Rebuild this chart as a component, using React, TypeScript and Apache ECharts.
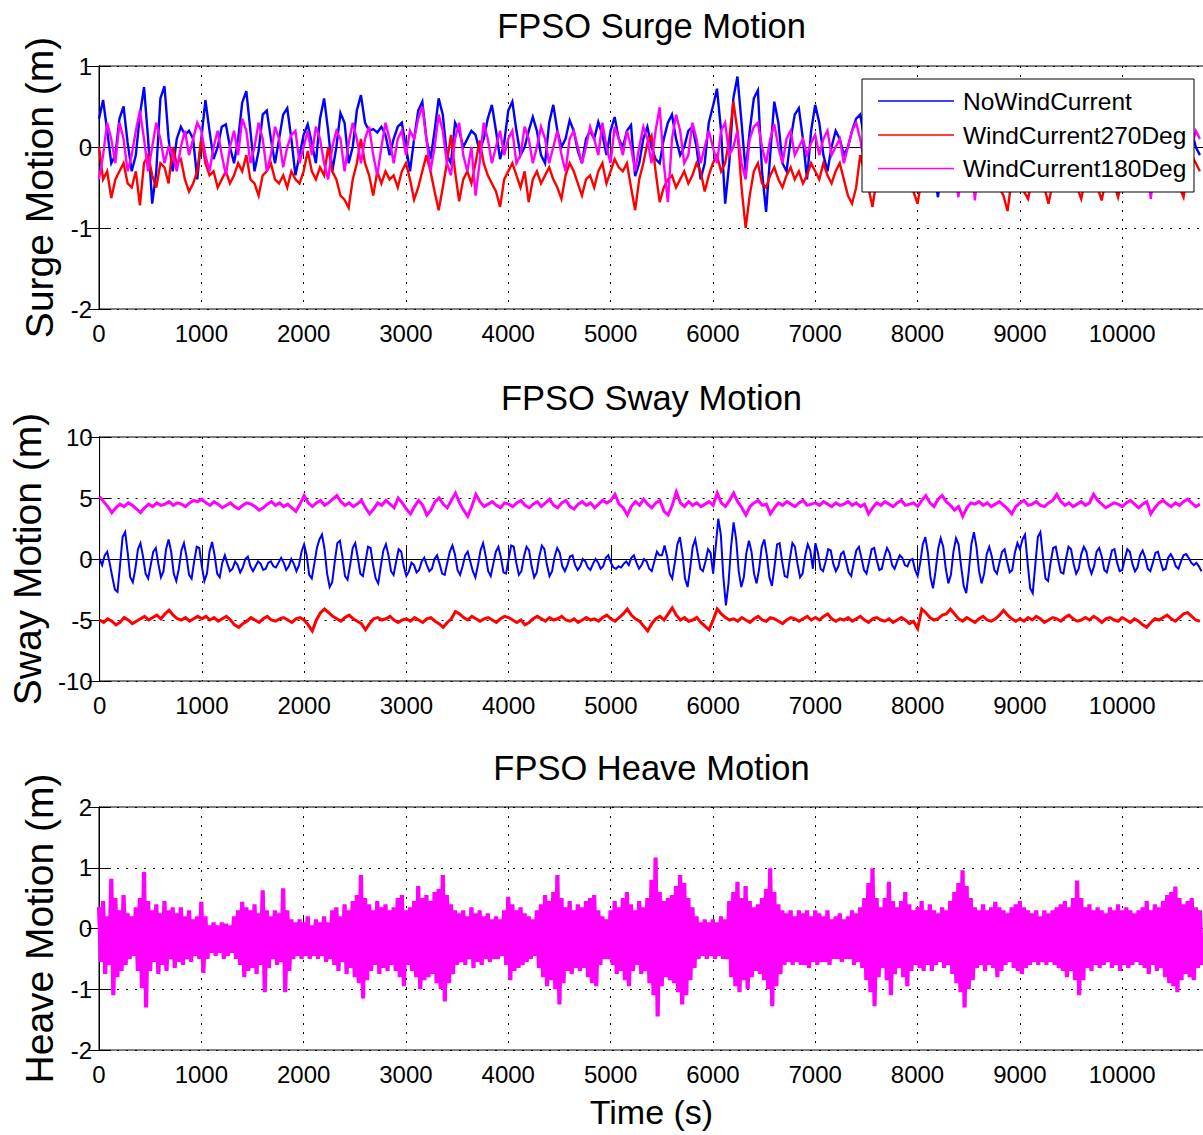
import React, { useEffect, useRef } from "react";
import * as echarts from "echarts";

// ---- axes and labels ----
const TIME_MAX = 10800;
const TIME_TICK = 1000;
const PANEL_TITLES = ["FPSO Surge Motion", "FPSO Sway Motion", "FPSO Heave Motion"];
const PANEL_Y_NAMES = ["Surge Motion (m)", "Sway Motion (m)", "Heave Motion (m)"];
const Y_MIN = [-2, -10, -2];
const Y_MAX = [1, 10, 2];
const Y_STEP = [1, 5, 1];
const X_NAME = "Time (s)";
const SERIES_NAMES = ["NoWindCurrent", "WindCurrent270Deg", "WindCurrent180Deg"];
const SERIES_COLORS = ["#0000ff", "#ff0000", "#ff00ff"];

// ---- surge (m), one sample every 40 s ----
const SURGE_DT = 40;
const SURGE_NOWIND = [
  0.35, 0.58, 0.2, -0.2, -0.1, 0.35, 0.5, 0.05, -0.3, -0.1, 0.4, 0.74, 0.1, -0.7, -0.3, 0.6, 0.75, 0.1, -0.3, 0.1, 0.25, 0.15, 0.2, 0.1, -0.4,
  0.1, 0.58, 0.2, -0.15, 0.0, 0.25, 0.28, 0.0, -0.2, 0.1, 0.55, 0.69, 0.2, -0.3, -0.05, 0.4, 0.45, 0.1, -0.2, 0.1, 0.4, 0.48, 0.1, -0.35, -0.1,
  0.15, 0.28, 0.05, -0.2, 0.35, 0.6, 0.2, -0.3, 0.0, 0.42, 0.3, -0.2, 0.0, 0.45, 0.64, 0.3, 0.2, 0.22, 0.18, 0.25, 0.15, -0.1, 0.1, 0.25, 0.3,
  0.0, -0.3, 0.1, 0.45, 0.56, 0.1, -0.15, 0.2, 0.6, 0.4, -0.1, -0.2, 0.3, 0.2, 0.0, 0.1, 0.2, 0.15, -0.05, 0.1, 0.35, 0.52, 0.2, -0.15, 0.05,
  0.45, 0.56, 0.2, -0.1, 0.0, 0.2, 0.37, 0.2, -0.1, -0.2, 0.3, 0.52, 0.2, 0.0, 0.1, 0.33, 0.2, -0.05, -0.2, 0.1, 0.2, 0.1, 0.31, 0.15, -0.1,
  0.2, 0.37, 0.1, 0.0, 0.2, 0.27, -0.36, -0.2, 0.1, 0.25, 0.0, -0.15, -0.2, 0.1, 0.3, 0.4, 0.1, -0.1, 0.0, 0.2, 0.25, 0.0, -0.4, -0.2, 0.3,
  0.5, 0.72, 0.2, -0.7, -0.2, 0.6, 0.87, 0.3, -0.3, 0.2, 0.6, 0.7, -0.3, -0.8, -0.1, 0.56, 0.3, -0.2, -0.3, 0.1, 0.4, 0.48, 0.1, -0.4, 0.2,
  0.52, 0.3, -0.1, -0.3, 0.0, 0.2, 0.1, -0.1, 0.0, 0.2, 0.35, 0.4, 0.1, -0.2, 0.1, 0.45, 0.3, -0.2, -0.1, 0.3, 0.5, 0.2, -0.3, 0.0, 0.4,
  0.3, -0.1, -0.3, 0.0, -0.3, -0.62, -0.2, 0.3, 0.55, 0.2, -0.3, 0.0, 0.4, 0.3, -0.2, -0.1, 0.35, 0.5, 0.1, -0.3, 0.0, 0.3, 0.2, -0.2, 0.1,
  0.45, 0.3, -0.2, -0.3, 0.2, 0.5, 0.3, -0.1, -0.3, 0.0, 0.4, 0.2, -0.2, 0.1, 0.5, 0.4, -0.1, -0.3, 0.1, 0.45, 0.2, -0.2, 0.0, 0.3, 0.4,
  0.1, -0.3, 0.0, 0.4, 0.3, -0.1, -0.2, 0.2, 0.5, 0.2, -0.2, 0.0, 0.35, 0.3, -0.1, -0.3, 0.1, 0.2, 0.0, -0.1,
];
const SURGE_270 = [
  0.0, -0.4, -0.3, -0.63, -0.4, -0.3, -0.2, -0.45, -0.5, -0.3, -0.72, -0.2, -0.1, -0.35, -0.5, -0.2, -0.25, -0.45, 0.0, -0.2, -0.15, -0.4, -0.55, -0.45, -0.3,
  0.1, -0.2, -0.35, -0.3, -0.5, -0.4, -0.3, -0.45, -0.35, -0.2, -0.3, -0.1, -0.4, -0.45, -0.6, -0.35, -0.3, -0.2, -0.4, -0.45, -0.35, -0.5, -0.3, -0.4, -0.45,
  -0.3, -0.05, -0.3, -0.4, -0.25, -0.35, 0.0, -0.3, -0.4, -0.6, -0.65, -0.75, -0.4, -0.2, 0.1, -0.2, -0.35, -0.6, -0.3, -0.45, -0.3, -0.4, -0.35, -0.5, -0.3,
  -0.2, -0.4, -0.65, -0.5, -0.3, -0.1, -0.3, -0.55, -0.78, -0.5, -0.2, 0.15, -0.3, -0.67, -0.4, -0.3, -0.45, -0.2, 0.08, -0.2, -0.35, -0.45, -0.55, -0.74, -0.4,
  -0.3, -0.2, -0.35, -0.5, -0.3, -0.68, -0.4, -0.3, -0.45, -0.35, -0.25, -0.4, -0.5, -0.64, -0.35, -0.2, -0.3, -0.45, -0.6, -0.4, -0.35, -0.5, -0.3, -0.2, -0.45,
  -0.3, -0.15, -0.25, -0.3, -0.2, -0.5, -0.78, -0.4, -0.2, 0.05, 0.14, -0.3, -0.68, -0.5, -0.4, -0.35, -0.5, -0.4, -0.3, -0.45, -0.35, -0.2, -0.3, -0.55, -0.35,
  -0.2, -0.1, -0.3, -0.2, 0.1, 0.56, 0.2, -0.5, -1.0, -0.6, -0.3, -0.2, -0.45, -0.5, -0.35, -0.25, -0.4, -0.5, -0.35, -0.25, -0.4, -0.3, -0.45, -0.35, -0.2,
  -0.3, -0.4, -0.2, -0.35, -0.45, -0.3, -0.2, -0.4, -0.6, -0.7, -0.5, -0.1, -0.3, -0.5, -0.74, -0.4, -0.3, -0.45, -0.35, -0.2, -0.4, -0.5, -0.3, -0.45, -0.55,
  -0.7, -0.4, -0.3, -0.45, -0.35, -0.2, -0.4, -0.5, -0.3, -0.35, -0.45, -0.3, -0.2, -0.4, -0.5, -0.35, -0.3, -0.45, -0.4, -0.3, -0.5, -0.6, -0.79, -0.4, -0.3,
  -0.45, -0.55, -0.64, -0.4, -0.3, -0.35, -0.5, -0.7, -0.45, -0.3, -0.2, -0.4, -0.35, -0.45, -0.5, -0.64, -0.4, -0.3, -0.35, -0.5, -0.66, -0.4, -0.3, -0.45, -0.62,
  -0.4, -0.3, -0.45, -0.35, -0.2, -0.4, -0.5, -0.35, -0.3, -0.45, -0.4, -0.3, -0.5, -0.4, -0.5, -0.62, -0.3, -0.1, -0.2, -0.3,
];
const SURGE_180 = [
  -0.4, -0.1, 0.3, 0.1, -0.2, 0.3, 0.1, -0.3, -0.1, 0.2, 0.45, 0.1, -0.3, 0.0, 0.3, 0.1, -0.2, 0.0, -0.1, -0.3, 0.0, 0.2, -0.1, 0.1, 0.3,
  0.2, -0.1, -0.3, 0.0, 0.2, -0.1, -0.35, 0.0, 0.2, -0.1, 0.35, 0.2, -0.2, 0.0, 0.3, 0.1, -0.3, -0.1, 0.25, 0.1, -0.25, 0.0, 0.15, 0.2, -0.2,
  0.0, 0.2, -0.1, 0.25, 0.1, -0.2, -0.4, 0.0, 0.2, 0.1, -0.3, 0.05, 0.3, 0.1, -0.2, 0.1, 0.25, -0.1, -0.35, 0.0, 0.3, 0.1, -0.2, 0.1, 0.2,
  -0.1, 0.2, 0.1, 0.35, 0.5, 0.1, -0.3, 0.0, 0.4, 0.2, -0.2, -0.35, 0.1, 0.3, -0.1, -0.3, 0.0, -0.6, -0.2, 0.3, 0.1, -0.2, 0.0, 0.2, -0.1,
  0.1, 0.2, -0.2, -0.1, 0.25, 0.1, -0.2, 0.0, 0.25, 0.1, -0.2, 0.0, 0.2, -0.1, -0.3, 0.1, 0.2, 0.0, -0.2, 0.0, 0.25, 0.1, -0.1, 0.3, 0.0,
  -0.2, 0.25, 0.1, -0.1, 0.2, 0.0, -0.3, 0.0, 0.25, 0.1, -0.2, 0.2, 0.49, -0.2, -0.68, 0.1, 0.4, 0.2, -0.2, -0.1, 0.3, 0.1, -0.2, 0.0, 0.2,
  0.0, -0.2, 0.2, 0.3, -0.1, 0.0, 0.2, -0.2, -0.4, 0.1, 0.25, 0.3, 0.0, -0.2, 0.1, 0.28, 0.0, -0.2, 0.1, 0.2, -0.1, 0.0, 0.1, -0.1, 0.05,
  0.15, -0.1, 0.1, 0.2, -0.1, 0.0, 0.1, -0.2, 0.0, 0.2, 0.3, 0.1, -0.2, 0.1, 0.3, 0.0, -0.3, 0.0, 0.25, 0.1, -0.2, 0.0, 0.2, 0.1, -0.3,
  0.0, 0.2, 0.1, -0.2, 0.0, 0.3, 0.1, -0.2, 0.0, -0.3, -0.62, -0.1, 0.2, 0.0, -0.66, -0.2, 0.1, 0.25, 0.0, -0.2, 0.1, 0.2, -0.1, 0.0, 0.2,
  0.0, -0.2, 0.1, 0.25, 0.0, -0.3, 0.0, 0.2, 0.1, -0.2, 0.1, 0.3, 0.0, -0.3, 0.0, 0.2, 0.1, -0.2, 0.1, 0.25, 0.0, -0.3, 0.1, 0.2, -0.1,
  0.1, 0.2, -0.1, -0.3, 0.0, 0.2, -0.2, -0.64, -0.2, 0.1, 0.2, 0.0, -0.3, 0.0, 0.25, 0.1, -0.2, 0.0, 0.2, 0.1,
];

// ---- sway (m) ----
const SWAY_NOWIND_DT = 25;
const SWAY_NOWIND = [
  0.0, -0.5, 0.3, 0.6, -0.4, -1.5, -2.5, -2.7, -0.5, 1.8, 2.2, 0.5, -1.5, -1.9, -0.8, 0.8, 1.3, 0.2, -1.2, -1.6, -0.5, 0.6, 0.9, -0.4, -1.5, -1.0, 0.8, 1.6, 0.6, -1.2, -1.8, -0.8, 0.7, 1.3, 0.2, -1.3, -1.6, -0.2, 1.0, 0.9,
  -0.6, -1.8, -1.2, 0.6, 1.4, 0.3, -1.2, -1.5, -0.3, 0.3, -0.4, -1.0, -0.8, -0.2, -0.5, -1.1, -0.7, 0.0, 0.2, -0.6, -1.0, -0.6, -0.2, -0.4, -0.9, -0.8, -0.3, -0.2, -0.6, -0.7, -0.3, 0.1, -0.3, -0.9, -0.6, 0.0, -0.4, -1.0, -0.5, 0.6,
  1.2, 0.3, -1.3, -1.6, -0.4, 0.9, 1.6, 2.0, 0.8, -1.2, -2.3, -1.9, -0.2, 1.3, 1.5, 0.2, -1.4, -1.7, -0.5, 0.9, 1.3, 0.1, -1.2, -1.4, -0.2, 1.0, 0.9, -0.5, -1.6, -2.0, -0.6, 0.7, 1.2, 0.3, -1.0, -1.3, -0.2, 0.8, 0.6, -0.6,
  -1.4, -1.0, -0.3, -0.5, -1.1, -0.9, -0.2, 0.1, -0.5, -1.0, -0.8, 0.0, 0.3, -0.4, -1.2, -1.3, -0.3, 0.6, 1.1, 0.4, -0.9, -1.3, -0.6, 0.3, 0.6, -0.2, -1.0, -1.5, -0.5, 0.7, 1.3, 0.3, -1.0, -1.4, -0.4, 0.6, 1.0, 0.1, -1.1, -1.2,
  0.0, 1.1, 1.0, -0.3, -1.3, -1.0, 0.2, 1.0, 0.7, -0.6, -1.5, -1.1, 0.2, 1.1, 0.8, -0.5, -1.4, -1.0, 0.2, 0.9, 0.5, -0.6, -1.0, -0.5, 0.2, 0.3, -0.5, -0.9, -0.6, 0.0, -0.2, -0.7, -0.9, -0.4, 0.0, -0.3, -0.8, -0.6, 0.1, 0.3,
  -0.3, -0.7, -0.8, -0.6, -0.7, -0.4, -0.2, -0.5, 0.1, 0.3, -0.3, -0.8, -0.5, 0.0, -0.2, -0.8, -1.0, -0.2, 0.6, 0.3, 0.3, 1.1, 0.2, -1.2, -1.6, -0.3, 1.2, 1.8, 0.4, -1.6, -2.3, -0.8, 1.0, 1.6, 0.4, -0.8, -1.0, -0.2, 0.8, 0.5,
  -1.2, 1.0, 3.3, 2.0, -1.5, -3.8, -2.0, 1.0, 3.0, 1.6, -1.0, -2.3, -1.5, 0.5, 1.5, 0.6, -1.2, -2.0, -0.8, 1.0, 1.6, 0.3, -1.5, -2.2, -0.6, 1.2, 1.3, -0.2, -1.4, -1.5, 0.0, 1.3, 1.0, -0.4, -1.5, -1.2, 0.3, 1.2, 0.7, -0.8,
  1.3, 0.5, -0.8, -1.0, -0.2, 0.8, 0.7, -0.4, -1.0, -0.6, 0.4, 0.6, -0.2, -1.1, -1.4, -0.3, 0.7, 1.0, 0.1, -0.9, -1.2, -0.2, 0.8, 0.9, -0.1, -0.9, -0.8, 0.2, 0.9, 0.5, -0.5, -0.8, -0.2, 0.3, 0.1, -0.5, -0.6, -0.1, 0.0, -0.9,
  -1.4, -0.3, 1.2, 1.8, 0.5, -1.5, -2.4, -1.0, 0.8, 1.7, 1.0, -0.8, -2.0, -1.3, 0.6, 1.7, 1.2, -0.6, -2.2, -2.8, -1.0, 1.2, 2.2, 1.0, -1.0, -2.0, -1.2, 0.4, 1.0, 0.2, -0.9, -1.2, -0.3, 0.6, 0.8, -0.2, -1.1, -0.9, 0.5, 1.3,
  0.8, 1.6, 2.0, -0.3, -2.4, -2.8, -0.5, 1.8, 2.2, 0.2, -1.6, -1.8, -0.3, 0.9, 1.0, -0.1, -1.1, -1.2, 0.0, 1.0, 0.8, -0.4, -1.2, -0.8, 0.4, 1.0, 0.6, -0.6, -1.2, -0.6, 0.6, 0.9, 0.2, -0.9, -1.1, -0.2, 0.7, 0.8, -0.3, -1.0,
  -0.9, 0.0, 0.8, 0.6, -0.4, -1.0, -0.7, 0.3, 0.7, 0.1, -0.8, -1.0, -0.3, 0.5, 0.6, -0.2, -0.9, -0.8, 0.1, 0.4, 0.0, -0.6, -0.8, -0.2, 0.3, 0.4, 0.1, -0.3, -0.5, -0.3, -0.6, -1.0,
];
const SWAY_OFFSET_DT = 40;
const SWAY_270 = [
  -5.0, -5.2, -4.9, -5.1, -5.4, -5.2, -4.8, -5.0, -5.3, -5.1, -4.9, -4.7, -5.0, -4.8, -4.6, -4.9, -4.5, -4.2, -4.6, -4.9, -5.0, -4.8, -5.1, -4.9, -4.7,
  -4.9, -4.7, -5.0, -4.8, -5.1, -4.9, -4.7, -5.0, -5.4, -5.6, -5.3, -5.1, -4.8, -5.0, -5.2, -4.9, -4.7, -5.0, -5.1, -4.9, -4.8, -5.0, -5.2, -4.9, -4.8,
  -5.0, -5.4, -5.9, -5.0, -4.4, -4.1, -4.4, -4.7, -4.9, -5.1, -4.8, -4.6, -4.9, -5.1, -5.3, -5.8, -5.3, -4.9, -4.8, -5.0, -4.9, -4.7, -5.0, -5.2, -5.0,
  -4.9, -5.1, -4.8, -5.0, -5.2, -4.9, -4.8, -5.1, -5.3, -5.6, -5.2, -4.9, -4.3, -4.5, -4.8, -5.0, -4.7, -4.9, -5.1, -4.9, -4.8, -5.0, -5.2, -4.9, -4.7,
  -4.8, -5.0, -5.2, -5.0, -5.4, -5.2, -4.9, -4.7, -4.9, -5.1, -4.8, -5.0, -4.9, -4.7, -5.0, -5.1, -4.9, -5.2, -5.0, -4.8, -5.0, -4.9, -5.1, -4.8, -4.6,
  -4.9, -5.1, -4.8, -4.5, -4.1, -4.6, -4.9, -5.1, -5.5, -5.9, -5.3, -4.9, -4.7, -5.0, -4.5, -4.0, -4.6, -5.0, -4.8, -5.1, -5.0, -4.8, -5.2, -5.5, -5.8,
  -5.0, -4.1, -4.5, -4.8, -5.0, -4.9, -5.1, -4.8, -5.0, -5.2, -4.9, -4.7, -5.0, -5.1, -4.8, -4.9, -5.1, -5.3, -5.0, -4.8, -4.9, -5.1, -4.9, -4.7, -5.0,
  -4.8, -5.0, -4.7, -4.5, -4.9, -5.1, -4.9, -5.0, -4.8, -5.1, -4.9, -4.7, -5.0, -5.2, -4.9, -4.8, -5.0, -5.1, -4.9, -5.2, -5.0, -4.8, -5.0, -5.3, -5.1,
  -5.7, -4.1, -4.4, -4.8, -5.0, -4.9, -4.6, -4.5, -4.1, -4.5, -4.9, -5.1, -4.8, -5.0, -5.2, -4.9, -4.7, -5.0, -5.1, -4.9, -4.6, -4.2, -4.6, -4.9, -5.1,
  -4.9, -5.1, -4.8, -5.0, -4.7, -4.9, -5.2, -5.0, -4.8, -4.9, -5.1, -4.8, -4.6, -4.9, -5.1, -5.0, -4.8, -5.0, -4.7, -4.9, -5.2, -4.9, -4.8, -5.0, -5.1,
  -4.8, -5.0, -5.2, -4.9, -5.1, -5.4, -5.6, -5.2, -4.9, -5.0, -4.8, -4.6, -4.9, -5.1, -4.8, -4.5, -4.4, -4.7, -5.0, -5.1,
];
const SWAY_180 = [
  5.1, 4.7, 4.3, 3.8, 4.2, 4.5, 4.3, 4.6, 4.4, 4.1, 3.8, 4.2, 4.5, 4.3, 4.6, 4.4, 4.5, 4.7, 4.4, 4.6, 4.5, 4.3, 4.6, 4.8, 4.7,
  4.9, 4.6, 4.4, 4.7, 4.5, 4.2, 4.4, 4.6, 4.3, 4.1, 4.4, 4.6, 4.5, 4.3, 4.0, 4.2, 4.5, 4.7, 4.4, 4.6, 4.3, 4.5, 4.2, 3.9, 4.5,
  5.2, 4.6, 4.3, 4.6, 4.8, 4.4, 4.6, 4.9, 5.2, 4.7, 4.4, 4.6, 4.3, 4.5, 4.8, 4.2, 3.7, 4.1, 4.6, 4.4, 4.8, 4.5, 4.2, 5.0, 4.6,
  4.1, 3.7, 4.3, 4.8, 4.4, 3.6, 4.0, 4.7, 5.0, 4.5, 4.2, 4.8, 5.4, 4.6, 4.0, 3.5, 4.3, 5.3, 4.7, 4.3, 4.5, 4.7, 4.4, 4.2, 4.6,
  4.5, 4.3, 4.6, 4.8, 4.4, 4.2, 4.5, 4.7, 4.3, 4.6, 4.9, 4.4, 4.2, 4.6, 4.8, 4.3, 4.1, 4.5, 4.7, 4.4, 4.6, 4.2, 4.5, 4.8, 4.6,
  4.8, 5.3, 4.5, 4.2, 3.6, 4.3, 4.7, 4.4, 4.9, 4.5, 4.2, 4.6, 4.8, 3.9, 3.6, 4.4, 5.5, 4.6, 4.3, 4.7, 4.4, 4.6, 4.3, 4.5, 4.7,
  4.4, 5.4, 4.6, 4.3, 4.8, 5.4, 4.7, 4.2, 3.6, 4.3, 4.6, 4.8, 4.4, 4.5, 3.7, 4.2, 4.6, 4.4, 4.7, 4.5, 4.3, 4.6, 4.8, 4.4, 4.5,
  4.6, 4.4, 4.7, 4.5, 4.3, 4.6, 4.4, 4.5, 4.7, 4.4, 4.6, 4.3, 4.5, 3.7, 4.2, 4.6, 4.4, 4.7, 4.5, 4.3, 4.6, 4.8, 4.4, 4.5, 4.6,
  4.3, 4.8, 5.2, 4.6, 4.3, 4.9, 5.2, 4.7, 4.4, 4.0, 4.3, 3.5, 4.2, 4.6, 4.5, 4.7, 4.4, 4.6, 4.3, 4.5, 4.7, 4.4, 4.1, 3.7, 4.3,
  4.6, 4.8, 4.4, 4.5, 4.7, 4.4, 4.3, 4.6, 4.8, 5.3, 4.7, 4.4, 4.6, 4.3, 4.5, 4.7, 4.4, 4.6, 5.3, 4.8, 4.5, 4.2, 4.4, 4.6, 4.5,
  4.3, 4.6, 4.8, 4.5, 4.2, 4.5, 4.7, 3.7, 4.2, 4.6, 4.8, 4.5, 4.3, 4.6, 4.4, 4.7, 4.9, 4.6, 4.3, 4.5,
];

// ---- heave (m): successive crest / trough of the wave-frequency response, one pair every 40 s ----
const HEAVE_DT = 40;
const HEAVE_CREST = [
  0.35, 0.45, 0.2, 0.82, 0.5, 0.3, 0.55, 0.25, 0.2, 0.35, 0.5, 0.93, 0.45, 0.3, 0.4, 0.25, 0.45, 0.3, 0.35, 0.25, 0.35, 0.2, 0.3, 0.15, 0.2,
  0.44, 0.2, 0.05, 0.1, 0.05, 0.1, 0.08, 0.05, 0.2, 0.3, 0.44, 0.35, 0.3, 0.4, 0.25, 0.63, 0.3, 0.2, 0.3, 0.25, 0.66, 0.3, 0.15, 0.1, 0.15,
  0.1, 0.2, 0.05, 0.15, 0.1, 0.2, 0.1, 0.3, 0.35, 0.2, 0.4, 0.3, 0.45, 0.55, 0.88, 0.5, 0.4, 0.3, 0.45, 0.35, 0.4, 0.3, 0.35, 0.5, 0.55,
  0.3, 0.35, 0.45, 0.7, 0.5, 0.55, 0.45, 0.6, 0.65, 0.88, 0.55, 0.4, 0.3, 0.25, 0.3, 0.2, 0.35, 0.25, 0.3, 0.2, 0.25, 0.15, 0.2, 0.15, 0.3,
  0.52, 0.4, 0.3, 0.35, 0.25, 0.2, 0.15, 0.3, 0.4, 0.55, 0.45, 0.6, 0.88, 0.5, 0.35, 0.45, 0.3, 0.4, 0.35, 0.45, 0.5, 0.55, 0.3, 0.2, 0.15,
  0.3, 0.45, 0.35, 0.5, 0.6, 0.4, 0.3, 0.45, 0.35, 0.5, 0.8, 1.17, 0.6, 0.45, 0.5, 0.55, 0.7, 0.88, 0.75, 0.5, 0.35, 0.2, 0.1, 0.15, 0.1,
  0.15, 0.1, 0.2, 0.15, 0.45, 0.6, 0.77, 0.5, 0.7, 0.45, 0.35, 0.4, 0.5, 0.65, 0.99, 0.6, 0.4, 0.3, 0.25, 0.3, 0.2, 0.3, 0.25, 0.3, 0.2,
  0.3, 0.25, 0.2, 0.3, 0.15, 0.2, 0.25, 0.15, 0.2, 0.3, 0.25, 0.35, 0.5, 0.75, 0.99, 0.5, 0.35, 0.5, 0.77, 0.45, 0.35, 0.45, 0.6, 0.4, 0.3,
  0.35, 0.45, 0.3, 0.4, 0.3, 0.25, 0.35, 0.3, 0.45, 0.6, 0.75, 0.96, 0.7, 0.5, 0.35, 0.3, 0.4, 0.3, 0.35, 0.44, 0.35, 0.3, 0.25, 0.35, 0.4,
  0.45, 0.35, 0.3, 0.25, 0.3, 0.2, 0.3, 0.25, 0.3, 0.35, 0.4, 0.45, 0.35, 0.5, 0.79, 0.5, 0.35, 0.4, 0.3, 0.35, 0.3, 0.25, 0.35, 0.3, 0.4,
  0.3, 0.35, 0.3, 0.25, 0.3, 0.35, 0.45, 0.3, 0.4, 0.35, 0.45, 0.55, 0.6, 0.69, 0.5, 0.4, 0.45, 0.5, 0.35, 0.3,
];
const HEAVE_TROUGH = [
  -0.55, -0.75, -0.6, -1.1, -0.8, -0.7, -0.6, -0.5, -0.45, -0.7, -0.98, -1.3, -0.7, -0.55, -0.75, -0.6, -0.7, -0.5, -0.65, -0.55, -0.6, -0.5, -0.55, -0.45, -0.5,
  -0.73, -0.5, -0.4, -0.45, -0.4, -0.5, -0.45, -0.4, -0.5, -0.6, -0.8, -0.7, -0.65, -0.75, -0.6, -1.05, -0.65, -0.5, -0.6, -0.55, -1.05, -0.7, -0.5, -0.45, -0.5,
  -0.45, -0.5, -0.45, -0.5, -0.45, -0.55, -0.5, -0.6, -0.7, -0.55, -0.75, -0.65, -0.8, -0.9, -1.15, -0.85, -0.7, -0.6, -0.75, -0.65, -0.7, -0.6, -0.7, -0.8, -0.95,
  -0.6, -0.7, -0.8, -1.0, -0.85, -0.8, -0.75, -0.9, -1.0, -1.2, -0.9, -0.75, -0.6, -0.55, -0.6, -0.5, -0.65, -0.55, -0.6, -0.5, -0.55, -0.5, -0.5, -0.45, -0.6,
  -0.85, -0.7, -0.65, -0.6, -0.55, -0.5, -0.45, -0.65, -0.8, -0.95, -0.85, -1.0, -1.25, -0.9, -0.7, -0.75, -0.65, -0.7, -0.65, -0.8, -0.9, -0.95, -0.6, -0.5, -0.5,
  -0.6, -0.75, -0.7, -0.85, -0.95, -0.7, -0.6, -0.75, -0.7, -0.9, -1.1, -1.45, -0.95, -0.8, -0.85, -0.9, -1.05, -1.25, -1.1, -0.85, -0.65, -0.5, -0.45, -0.5, -0.45,
  -0.5, -0.45, -0.5, -0.5, -0.8, -0.95, -1.05, -0.85, -1.0, -0.8, -0.7, -0.75, -0.85, -1.0, -1.28, -0.95, -0.75, -0.6, -0.55, -0.6, -0.55, -0.6, -0.6, -0.65, -0.55,
  -0.6, -0.55, -0.55, -0.6, -0.5, -0.5, -0.55, -0.5, -0.5, -0.6, -0.55, -0.65, -0.85, -1.05, -1.28, -0.8, -0.65, -0.85, -1.1, -0.75, -0.65, -0.8, -0.95, -0.7, -0.6,
  -0.65, -0.7, -0.6, -0.7, -0.6, -0.55, -0.65, -0.6, -0.75, -0.9, -1.05, -1.3, -1.0, -0.85, -0.65, -0.6, -0.7, -0.6, -0.65, -0.8, -0.7, -0.6, -0.55, -0.65, -0.7,
  -0.75, -0.65, -0.6, -0.55, -0.6, -0.55, -0.6, -0.55, -0.6, -0.65, -0.7, -0.8, -0.7, -0.85, -1.1, -0.85, -0.65, -0.7, -0.6, -0.65, -0.6, -0.55, -0.65, -0.6, -0.7,
  -0.6, -0.65, -0.6, -0.55, -0.6, -0.65, -0.75, -0.6, -0.7, -0.65, -0.8, -0.9, -0.95, -1.05, -0.85, -0.75, -0.8, -0.85, -0.65, -0.6,
];

// ---- layout ----
const CHART_W = 1210;
const CHART_H = 1135;
const PLOT_LEFT = 99;
const PLOT_RIGHT_EDGE = 1204;
const PANEL_TOPS = [66, 437, 807];
const PANEL_HEIGHTS = [243, 244, 243];
const TITLE_Y = [26, 398, 768];
const FONT = "Liberation Sans, Arial, Helvetica, sans-serif";

const toPoints = (values: number[], step: number) => values.map((v, i) => [i * step, v]);

const heavePoints = () =>
  HEAVE_CREST.flatMap((c, i) => [
    [i * HEAVE_DT, c],
    [i * HEAVE_DT + HEAVE_DT / 2, HEAVE_TROUGH[i]],
  ]);

function buildOption() {
  const grids = PANEL_TOPS.map((top, i) => ({
    left: PLOT_LEFT,
    right: CHART_W - PLOT_RIGHT_EDGE,
    top,
    height: PANEL_HEIGHTS[i],
    show: true,
    borderColor: "#000",
    borderWidth: 1,
    backgroundColor: "#fff",
  }));

  const dotted = { color: "#000", width: 1, type: [2, 7] as number[] };
  const tick = { show: true, inside: true, length: 12, lineStyle: { color: "#000", width: 1 } };
  const axisLine = { show: true, lineStyle: { color: "#000", width: 1 } };

  const xAxes: any[] = [];
  const yAxes: any[] = [];
  PANEL_TOPS.forEach((_, i) => {
    xAxes.push({
      gridIndex: i,
      type: "value",
      min: 0,
      max: TIME_MAX,
      interval: TIME_TICK,
      axisLine,
      axisTick: tick,
      axisLabel: {
        color: "#000",
        fontSize: 24,
        fontFamily: FONT,
        margin: 12,
        showMaxLabel: false,
        formatter: (v: number) => String(v),
      },
      splitLine: { show: true, lineStyle: dotted },
    });
    xAxes.push({
      gridIndex: i,
      type: "value",
      position: "top",
      min: 0,
      max: TIME_MAX,
      interval: TIME_TICK,
      axisLine,
      axisTick: tick,
      axisLabel: { show: false },
      splitLine: { show: false },
    });
    yAxes.push({
      gridIndex: i,
      type: "value",
      min: Y_MIN[i],
      max: Y_MAX[i],
      interval: Y_STEP[i],
      axisLine,
      axisTick: tick,
      axisLabel: { color: "#000", fontSize: 24, fontFamily: FONT, margin: 7, formatter: (v: number) => String(v) },
      splitLine: { show: true, lineStyle: dotted },
      name: PANEL_Y_NAMES[i],
      nameLocation: "middle",
      nameRotate: 90,
      nameGap: 40,
      nameTextStyle: { color: "#000", fontSize: 39, fontFamily: FONT },
    });
    yAxes.push({
      gridIndex: i,
      type: "value",
      position: "right",
      min: Y_MIN[i],
      max: Y_MAX[i],
      interval: Y_STEP[i],
      axisLine,
      axisTick: tick,
      axisLabel: { show: false },
      splitLine: { show: false },
    });
  });

  const line = (panel: number, colorIdx: number, data: number[][], width: number) => ({
    type: "line",
    name: SERIES_NAMES[colorIdx],
    xAxisIndex: panel * 2,
    yAxisIndex: panel * 2,
    data,
    showSymbol: false,
    symbol: "none",
    silent: true,
    lineStyle: { color: SERIES_COLORS[colorIdx], width, join: "miter" },
    itemStyle: { color: SERIES_COLORS[colorIdx] },
    z: 2 + colorIdx,
  });

  const series = [
    line(0, 0, toPoints(SURGE_NOWIND, SURGE_DT), 2.4),
    line(0, 1, toPoints(SURGE_270, SURGE_DT), 2.4),
    line(0, 2, toPoints(SURGE_180, SURGE_DT), 2.4),
    line(1, 0, toPoints(SWAY_NOWIND, SWAY_NOWIND_DT), 2),
    line(1, 1, toPoints(SWAY_270, SWAY_OFFSET_DT), 3),
    line(1, 2, toPoints(SWAY_180, SWAY_OFFSET_DT), 3),
    line(2, 2, heavePoints(), 4.2),
  ];

  // legend box drawn over the surge panel
  const legendLeft = 862;
  const legendTop = 79;
  const legendW = 332;
  const legendH = 113;
  const rowY = [101, 135, 168.5];
  const legendEls: any[] = [
    {
      type: "rect",
      z: 100,
      shape: { x: legendLeft, y: legendTop, width: legendW, height: legendH },
      style: { fill: "#fff", stroke: "#000", lineWidth: 1 },
    },
  ];
  SERIES_NAMES.forEach((name, i) => {
    legendEls.push({
      type: "line",
      z: 101,
      shape: { x1: legendLeft + 16, y1: rowY[i], x2: legendLeft + 92, y2: rowY[i] },
      style: { stroke: SERIES_COLORS[i], lineWidth: 1.3 },
    });
    legendEls.push({
      type: "text",
      z: 101,
      x: legendLeft + 101,
      y: rowY[i],
      style: {
        text: name,
        fill: "#000",
        font: `24.5px ${FONT}`,
        textVerticalAlign: "middle",
        textAlign: "left",
      },
    });
  });

  const centerX = (PLOT_LEFT + PLOT_RIGHT_EDGE) / 2;
  const titleEls = PANEL_TITLES.map((t, i) => ({
    type: "text",
    z: 50,
    x: centerX,
    y: TITLE_Y[i],
    style: { text: t, fill: "#000", font: `34.5px ${FONT}`, textAlign: "center", textVerticalAlign: "middle" },
  }));
  const xNameEl = {
    type: "text",
    z: 50,
    x: centerX,
    y: 1112,
    style: { text: X_NAME, fill: "#000", font: `34px ${FONT}`, textAlign: "center", textVerticalAlign: "middle" },
  };

  return {
    animation: false,
    backgroundColor: "#fff",
    grid: grids,
    xAxis: xAxes,
    yAxis: yAxes,
    series,
    graphic: { elements: [...titleEls, xNameEl, ...legendEls] },
  };
}

export default function App() {
  const ref = useRef<HTMLDivElement>(null);

  useEffect(() => {
    if (!ref.current) return;
    const chart = echarts.init(ref.current, undefined, { renderer: "svg" });
    chart.setOption(buildOption() as any);
    return () => chart.dispose();
  }, []);

  return (
    <div
      style={{
        position: "absolute",
        left: 0,
        top: 0,
        width: 1203,
        height: CHART_H,
        overflow: "hidden",
        background: "#fff",
      }}
    >
      <div ref={ref} style={{ width: CHART_W, height: CHART_H }} />
    </div>
  );
}
